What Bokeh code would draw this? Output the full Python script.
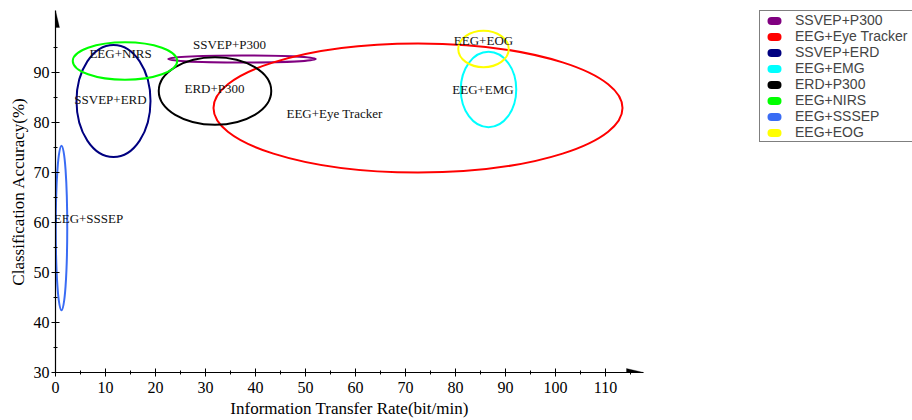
from bokeh.plotting import figure
from bokeh.layouts import row
from bokeh.models import Legend, LegendItem, FixedTicker, PolyAnnotation, ColumnDataSource
from bokeh.core.properties import value
from bokeh.embed import file_html
from bokeh.resources import INLINE

# ---- data ----
names = ["SSVEP+P300", "EEG+Eye Tracker", "SSVEP+ERD", "EEG+EMG",
         "ERD+P300", "EEG+NIRS", "EEG+SSSEP", "EEG+EOG"]
colors = ["#800080", "#ff0000", "#000080", "#00ffff",
          "#000000", "#00ff00", "#3a6cf4", "#ffff00"]
# ellipse centres (ITR, accuracy) and extents
ell_x = [37.3, 72.5, 11.6, 86.6, 31.9, 13.9, 1.2, 85.6]
ell_y = [92.7, 82.9, 84.3, 86.6, 86.3, 92.3, 58.9, 94.7]
ell_w = [29.5, 81.8, 14.8, 11.1, 22.5, 20.9, 2.3, 10.1]
ell_h = [1.4, 25.8, 22.4, 15.1, 13.5, 7.5, 32.9, 7.3]
# label positions
lab_x = [34.8, 55.8, 11.0, 85.5, 31.8, 13.0, 6.6, 85.6]
lab_y = [95.6, 81.8, 84.6, 86.6, 86.8, 93.8, 60.8, 96.5]

x_ticks = [0, 10, 20, 30, 40, 50, 60, 70, 80, 90, 100, 110]
y_ticks = [30, 40, 50, 60, 70, 80, 90]

X_MIN, X_MAX = 0, 117.6
Y_MIN, Y_MAX = 30, 102.4

SERIF = "Liberation Serif"
H = 420
W_TOTAL = 912
W1 = 648
BL, BR, BT, BB = 55, 5, 10, 48

p = figure(width=W1, height=H, x_range=(X_MIN, X_MAX), y_range=(Y_MIN, Y_MAX),
           output_backend="svg", toolbar_location=None,
           min_border_left=BL, min_border_right=BR, min_border_top=BT, min_border_bottom=BB)
p.grid.visible = False
p.outline_line_color = None
p.background_fill_color = "white"

for ax, ticks in ((p.xaxis[0], x_ticks), (p.yaxis[0], y_ticks)):
    ax.ticker = FixedTicker(ticks=ticks,
                            minor_ticks=[t + 5 for t in ticks])
    ax.axis_line_color = "black"
    ax.axis_line_width = 1.2
    ax.major_tick_in = 4
    ax.major_tick_out = 4
    ax.minor_tick_in = 2
    ax.minor_tick_out = 2
    ax.major_tick_line_color = "black"
    ax.minor_tick_line_color = "black"
    ax.major_label_text_font = SERIF
    ax.major_label_text_font_size = "16px"
    ax.major_label_text_color = "black"
    ax.axis_label_text_font = SERIF
    ax.axis_label_text_font_size = "17px"
    ax.axis_label_text_font_style = "normal"
    ax.axis_label_text_color = "black"

p.xaxis.axis_label = "Information Transfer Rate(bit/min)"
p.yaxis.axis_label = "Classification Accuracy(%)"
p.xaxis.major_label_standoff = 5
p.yaxis.major_label_standoff = 2
p.xaxis.axis_label_standoff = 3
p.yaxis.axis_label_standoff = 3

# arrow heads (sizes in px converted through the scale)
fw = W1 - BL - BR
fh = H - BT - BB
PX_X = fw / (X_MAX - X_MIN)
PX_Y = fh / (Y_MAX - Y_MIN)
hl, hw = 17, 4
p.add_layout(PolyAnnotation(xs=[X_MIN, X_MIN - hw / PX_X, X_MIN + hw / PX_X],
                            ys=[Y_MAX, Y_MAX - hl / PX_Y, Y_MAX - hl / PX_Y],
                            fill_color="black", fill_alpha=1, line_color="black"))
p.add_layout(PolyAnnotation(xs=[X_MAX, X_MAX - hl / PX_X, X_MAX - hl / PX_X],
                            ys=[Y_MIN, Y_MIN + hw / PX_Y, Y_MIN - hw / PX_Y],
                            fill_color="black", fill_alpha=1, line_color="black"))

src = ColumnDataSource(dict(x=ell_x, y=ell_y, w=ell_w, h=ell_h, c=colors))
p.ellipse(x="x", y="y", width="w", height="h", source=src,
          fill_color=None, line_color="c", line_width=2)

lsrc = ColumnDataSource(dict(x=lab_x, y=lab_y, t=names))
p.text(x="x", y="y", text="t", source=lsrc, text_font=value(SERIF),
       text_font_size="13px", text_align="center", text_baseline="middle",
       text_color="#111111")

# legend panel
q = figure(width=W_TOTAL - W1, height=H, x_range=(0, 1), y_range=(0, 1),
           output_backend="svg", toolbar_location=None,
           min_border_left=0, min_border_right=0, min_border_top=0, min_border_bottom=0)
q.axis.visible = False
q.grid.visible = False
q.outline_line_color = None

items = []
for n, c in zip(names, colors):
    r = q.scatter(x=[float("nan")], y=[float("nan")], marker="dash", line_color=c,
                  line_width=8, line_cap="round", size=10)
    items.append(LegendItem(label=n, renderers=[r]))

legend = Legend(items=items, location=(111, 230), border_line_color="black",
                border_line_width=1, padding=1, spacing=0, glyph_width=26,
                glyph_height=15, label_height=15, label_standoff=8, label_width=140,
                label_text_font="Liberation Sans", label_text_font_size="14px",
                background_fill_alpha=1, margin=0)
q.add_layout(legend, "center")

open("out.html", "w").write(file_html(row(p, q), INLINE))
